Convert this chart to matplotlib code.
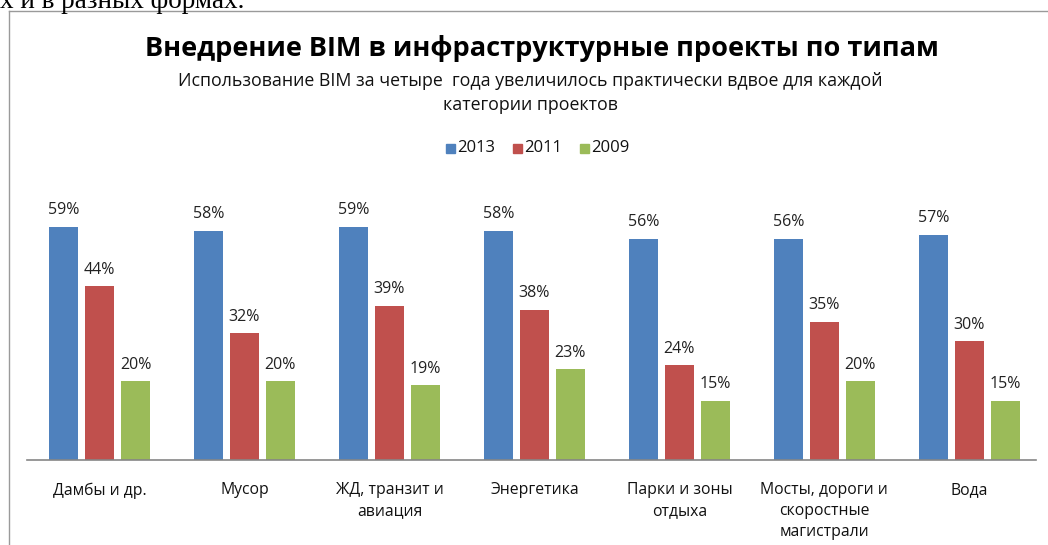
import matplotlib
matplotlib.use("Agg")
import matplotlib.pyplot as plt
from matplotlib.lines import Line2D
from matplotlib.patches import Rectangle
import numpy as np

categories = ["Дамбы и др.", "Мусор", "ЖД, транзит и\nавиация", "Энергетика",
              "Парки и зоны\nотдыха", "Мосты, дороги и\nскоростные\nмагистрали", "Вода"]
years = ["2013", "2011", "2009"]
v2013 = [59, 58, 59, 58, 56, 56, 57]
v2011 = [44, 32, 39, 38, 24, 35, 30]
v2009 = [20, 20, 19, 23, 15, 20, 15]
series = [v2013, v2011, v2009]
colors = ["#4F81BD", "#C0504D", "#9BBB59"]

title = "Внедрение BIM в инфраструктурные проекты по типам"
subtitle = "Использование BIM за четыре  года увеличилось практически вдвое для каждой\nкатегории проектов"

FONT = ["Open Sans", "DejaVu Sans"]
plt.rcParams["font.family"] = FONT

W, H = 1048, 545
fig = plt.figure(figsize=(W / 100, H / 100), dpi=100)

def fx(px):
    return px / W

def fy(py):
    return 1 - py / H

# cut-off document text at top
fig.text(fx(0), fy(8), "х и в разных формах.", family=["Liberation Serif", "DejaVu Serif"],
         fontsize=19.5, color="black", va="baseline", ha="left")

# chart border
fig.add_artist(Line2D([fx(9), fx(1048)], [fy(11), fy(11)], color="#9a9a9a", lw=1))
fig.add_artist(Line2D([fx(9), fx(9)], [fy(11), fy(545)], color="#9a9a9a", lw=1))

# axes
ax_left, ax_right = 27, 1036
ax_bottom, ax_top = 460, 203
ax = fig.add_axes([fx(ax_left), fy(ax_bottom), fx(ax_right - ax_left), (ax_bottom - ax_top) / H])
x = np.arange(len(categories))
step = 0.248
width = 0.2
for i, (vals, c) in enumerate(zip(series, colors)):
    pos = x + (i - 1) * step
    bars = ax.bar(pos, vals, width=width, color=c, label=years[i], zorder=2)
    for b, v in zip(bars, vals):
        ax.annotate(f"{v}%", (b.get_x() + b.get_width() / 2, v), xytext=(0, 6),
                    textcoords="offset points", ha="center", va="bottom",
                    fontsize=11.5, color="#222222")
ax.set_xlim(-0.5, 6.46)
ax.set_ylim(0, 65)
for s in ["top", "right", "left"]:
    ax.spines[s].set_visible(False)
ax.spines["bottom"].set_color("#868686")
ax.spines["bottom"].set_linewidth(1.2)
ax.set_yticks([])
ax.set_xticks(x)
ax.set_xticklabels(categories, fontsize=11.3, color="#111111", linespacing=1.39)
ax.tick_params(axis="x", length=0, pad=16)
for t in ax.get_xticklabels():
    t.set_verticalalignment("top")

# title and subtitle
fig.text(fx(542), fy(48), title, ha="center", va="center", fontsize=19.5, fontweight="bold", color="black")
fig.text(fx(530), fy(93), subtitle, ha="center", va="center", fontsize=12.8, color="#111111",
         linespacing=1.4)

# legend
leg_items = [(450, "2013", colors[0]), (517, "2011", colors[1]), (584, "2009", colors[2])]
for px, lab, c in leg_items:
    fig.add_artist(Rectangle((fx(px - 4), fy(153)), fx(9), 9 / H, color=c))
    fig.text(fx(px + 7), fy(148), lab, ha="left", va="center", fontsize=12, color="#111111")

fig.savefig("out.png", dpi=100)
